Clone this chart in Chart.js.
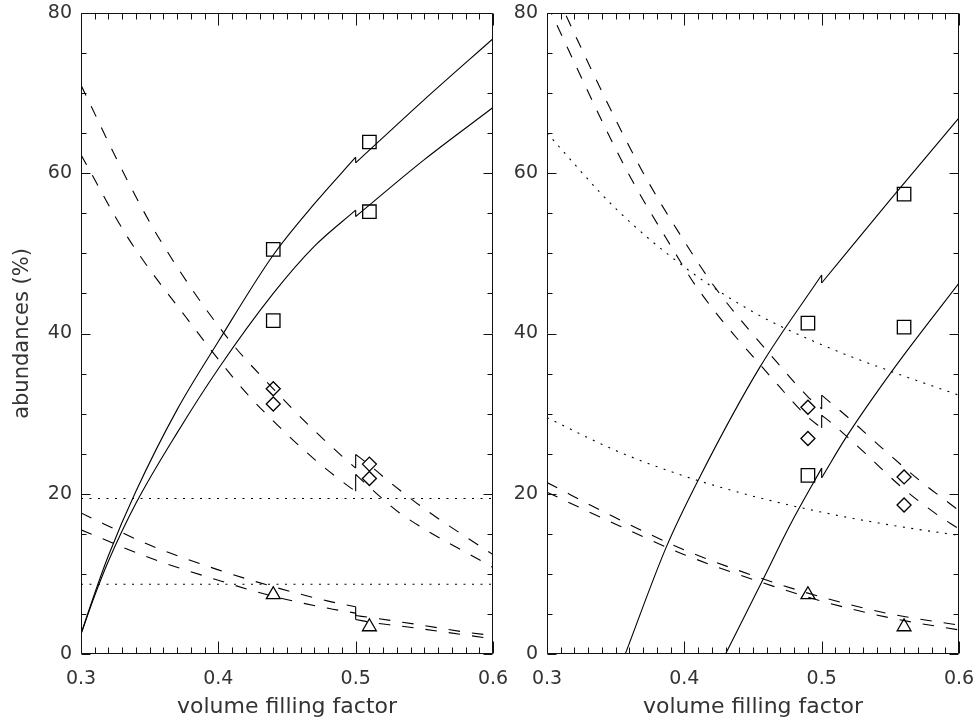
<!DOCTYPE html>
<html>
<head>
<meta charset="utf-8">
<script src="https://cdn.jsdelivr.net/npm/chart.js@4.4.1/dist/chart.umd.min.js"></script>
<style>
  html, body { margin: 0; padding: 0; background: #fff; }
  #wrap { position: relative; width: 976px; height: 720px; overflow: hidden; }
  canvas { position: absolute; top: 0; }
</style>
</head>
<body>
<div id="wrap">
  <canvas id="left" width="520" height="720" style="left:0px"></canvas>
  <canvas id="right" width="476" height="720" style="left:500px"></canvas>
</div>
<script>
// ---- ticks ----
const xTicks = [0.3, 0.4, 0.5, 0.6];
const yTicks = [0, 20, 40, 60, 80];

// ---- left panel ----
// solid curves (break at 0.5)
const lSolidUpPreX = [0.3, 0.31, 0.32, 0.34, 0.37, 0.4, 0.44, 0.47, 0.5];
const lSolidUpPreY = [2.5, 7.6, 12.3, 20.3, 30.5, 39.0, 49.8, 56.2, 62.0];
const lSolidUpPostX = [0.5, 0.55, 0.6];
const lSolidUpPostY = [61.3, 69.2, 76.8];
const lSolidLoPreX = [0.3, 0.31, 0.32, 0.34, 0.37, 0.4, 0.44, 0.47, 0.5];
const lSolidLoPreY = [2.5, 7.3, 11.6, 18.8, 27.6, 35.6, 45.0, 50.9, 55.4];
const lSolidLoPostX = [0.5, 0.55, 0.6];
const lSolidLoPostY = [54.6, 61.7, 68.2];
// upper dashed pair
const lDashAPreX = [0.3, 0.3335, 0.3575, 0.406, 0.44, 0.465, 0.49, 0.5];
const lDashAPreY = [71.0, 59.2, 51.7, 39.6, 33.1, 28.7, 24.7, 23.2];
const lDashAPostX = [0.5, 0.51, 0.523, 0.551, 0.6];
const lDashAPostY = [24.9, 23.6, 21.7, 18.0, 12.4];
const lDashBPreX = [0.3, 0.334, 0.377, 0.4187, 0.4435, 0.47, 0.4966, 0.5];
const lDashBPreY = [62.3, 52.0, 41.9, 32.9, 28.5, 24.3, 20.7, 20.3];
const lDashBPostX = [0.5, 0.507, 0.518, 0.532, 0.6];
const lDashBPostY = [22.4, 21.3, 19.6, 17.6, 10.8];
// lower dashed pair
const lDashEPreX = [0.3, 0.35, 0.4, 0.44, 0.48, 0.5];
const lDashEPreY = [17.6, 13.6, 10.5, 8.4, 6.6, 5.9];
const lDashEPostX = [0.5, 0.513, 0.548, 0.581, 0.6];
const lDashEPostY = [4.8, 4.5, 3.6, 2.7, 2.3];
const lDashFPreX = [0.3, 0.35, 0.4, 0.44, 0.48, 0.5];
const lDashFPreY = [15.5, 12.0, 9.2, 7.2, 5.7, 5.1];
const lDashFPostX = [0.5, 0.513, 0.532, 0.6];
const lDashFPostY = [4.3, 3.9, 3.5, 1.9];
// dotted levels
const lDotX = [0.3, 0.6];
const lDotHigh = [19.4, 19.4];
const lDotLow = [8.7, 8.7];
// measurements
const lSquareX = [0.44, 0.44, 0.51, 0.51];
const lSquareY = [50.5, 41.6, 63.9, 55.2];
const lDiamondX = [0.44, 0.44, 0.51, 0.51];
const lDiamondY = [33.1, 31.2, 23.7, 21.9];
const lTriangleX = [0.44, 0.51];
const lTriangleY = [7.4, 3.4];

// ---- right panel ----
const rSolid1PreX = [0.357, 0.387, 0.411, 0.455, 0.5];
const rSolid1PreY = [0, 13.4, 22.0, 35.8, 47.3];
const rSolid1PostX = [0.5, 0.55, 0.6];
const rSolid1PostY = [46.3, 56.7, 66.9];
const rSolid2PreX = [0.43, 0.457, 0.477, 0.5];
const rSolid2PreY = [0, 9.2, 16.1, 23.2];
const rSolid2PostX = [0.5, 0.518, 0.552, 0.6];
const rSolid2PostY = [22.0, 27.1, 35.5, 46.3];
const rDotX = [0.3, 0.35, 0.4, 0.45, 0.5, 0.55, 0.6];
const rDot1Y = [65.0, 55.6, 48.3, 42.7, 38.6, 35.3, 32.3];
const rDot2Y = [29.5, 25.4, 22.2, 19.7, 17.7, 16.1, 14.8];
const rDashAPreX = [0.3, 0.357, 0.391, 0.411, 0.466, 0.489, 0.5];
const rDashAPreY = [81.1, 60.7, 50.7, 45.3, 34.0, 29.7, 28.2];
const rDashAPostX = [0.5, 0.506, 0.532, 0.557, 0.584, 0.6];
const rDashAPostY = [29.8, 29.0, 25.0, 21.0, 17.4, 15.6];
const rDashBPreX = [0.3, 0.313, 0.368, 0.403, 0.423, 0.468, 0.49, 0.5];
const rDashBPreY = [85.0, 80.0, 60.7, 50.7, 45.6, 36.3, 32.1, 30.6];
const rDashBPostX = [0.5, 0.518, 0.544, 0.571, 0.6];
const rDashBPostY = [32.3, 29.7, 25.7, 21.7, 17.9];
const rDashLowX = [0.3, 0.35, 0.4, 0.45, 0.5, 0.55, 0.6];
const rDashCY = [21.4, 17.0, 13.0, 9.8, 7.1, 5.0, 3.6];
const rDashDY = [20.2, 16.2, 12.4, 9.3, 6.6, 4.5, 3.0];
const rSquareX = [0.49, 0.49, 0.56, 0.56];
const rSquareY = [41.3, 22.3, 57.4, 40.8];
const rDiamondX = [0.49, 0.49, 0.56, 0.56];
const rDiamondY = [30.8, 26.9, 22.1, 18.6];
const rTriangleX = [0.49, 0.56];
const rTriangleY = [7.4, 3.4];

const ink = "#000";
const textColor = "#333";
const DASH = [11.5, 12];
const DOT = [2, 6.5];

function pts(xs, ys) {
  return xs.map((x, i) => ({ x: x, y: ys[i] }));
}

function curve(xs, ys, dash) {
  return {
    data: pts(xs, ys),
    borderColor: ink,
    borderWidth: 1.1,
    borderDash: dash || [],
    pointRadius: 0,
    fill: false,
    cubicInterpolationMode: "monotone",
  };
}

// a curve with a jump at 0.5: two pieces plus the short joining stroke
function brokenCurve(preX, preY, postX, postY, dash) {
  const n = preX.length - 1;
  return [
    curve(preX, preY, dash),
    curve(postX, postY, dash),
    curve([preX[n], postX[0]], [preY[n], postY[0]]),
  ];
}

function marks(xs, ys, style, radius) {
  return {
    data: pts(xs, ys),
    showLine: false,
    pointStyle: style,
    pointRadius: radius,
    pointHoverRadius: radius,
    pointBorderColor: ink,
    pointBackgroundColor: "rgba(0,0,0,0)",
    pointBorderWidth: 1.3,
  };
}

const framePlugin = {
  id: "frame",
  afterDraw(chart) {
    const { ctx, chartArea: a, scales } = chart;
    const xs = scales.x, ys = scales.y;
    const L = Math.round(a.left) + 0.5, R = Math.round(a.right) - 0.5;
    const T = Math.round(a.top) + 0.5, B = Math.round(a.bottom) - 0.5;
    ctx.save();
    ctx.strokeStyle = "#111";
    ctx.lineWidth = 1;
    ctx.beginPath();
    ctx.rect(L, T, R - L, B - T);
    // x ticks every 0.01, long ones on the labels
    for (let i = 0; i <= 30; i++) {
      const px = Math.round(xs.getPixelForValue(0.3 + i * 0.01)) + 0.5;
      const len = i % 10 === 0 ? 12 : 6;
      ctx.moveTo(px, B); ctx.lineTo(px, B - len);
      ctx.moveTo(px, T); ctx.lineTo(px, T + len);
    }
    // y ticks every 5, long ones on the labels
    for (let v = 0; v <= 80; v += 5) {
      const py = Math.round(ys.getPixelForValue(v)) + 0.5;
      const len = v % 20 === 0 ? 9 : 5;
      ctx.moveTo(L, py); ctx.lineTo(L + len, py);
      ctx.moveTo(R, py); ctx.lineTo(R - len, py);
    }
    ctx.stroke();
    ctx.restore();
  },
};

const tickFont = { family: "DejaVu Sans", size: 19 };
const titleFont = { family: "DejaVu Sans", size: 22 };

function makeScales(yWidth, yTitle) {
  return {
    x: {
      type: "linear",
      min: 0.3,
      max: 0.6,
      grid: { display: false, drawTicks: false },
      border: { display: false },
      afterBuildTicks: (s) => { s.ticks = xTicks.map((v) => ({ value: v })); },
      afterFit: (s) => { s.height = 66; s.paddingLeft = 0; s.paddingRight = 0; },
      ticks: {
        color: textColor, font: tickFont, padding: 14,
        maxRotation: 0, autoSkip: false,
        callback: (v) => Number(v).toFixed(1),
      },
      title: {
        display: true, text: "volume filling factor", color: textColor,
        font: titleFont, padding: { top: 0, bottom: 0 },
      },
    },
    y: {
      type: "linear",
      min: 0,
      max: 80,
      grid: { display: false, drawTicks: false },
      border: { display: false },
      afterBuildTicks: (s) => { s.ticks = yTicks.map((v) => ({ value: v })); },
      afterFit: (s) => { s.width = yWidth; s.paddingTop = 0; s.paddingBottom = 0; },
      ticks: { color: textColor, font: tickFont, padding: 9 },
      title: {
        display: !!yTitle, text: yTitle || "", color: textColor,
        font: { family: "DejaVu Sans", size: 21 }, padding: { top: 10, bottom: 0 },
      },
    },
  };
}

function makeChart(id, datasets, yWidth, padRight, yTitle) {
  return new Chart(document.getElementById(id), {
    type: "line",
    data: { datasets: datasets },
    options: {
      responsive: false,
      animation: false,
      devicePixelRatio: 1,
      layout: { padding: { top: 13, left: 0, right: padRight, bottom: 0 } },
      plugins: { legend: { display: false }, tooltip: { enabled: false } },
      scales: makeScales(yWidth, yTitle),
    },
    plugins: [framePlugin],
  });
}

const leftSets = [].concat(
  brokenCurve(lSolidUpPreX, lSolidUpPreY, lSolidUpPostX, lSolidUpPostY),
  brokenCurve(lSolidLoPreX, lSolidLoPreY, lSolidLoPostX, lSolidLoPostY),
  brokenCurve(lDashAPreX, lDashAPreY, lDashAPostX, lDashAPostY, DASH),
  brokenCurve(lDashBPreX, lDashBPreY, lDashBPostX, lDashBPostY, DASH),
  brokenCurve(lDashEPreX, lDashEPreY, lDashEPostX, lDashEPostY, DASH),
  brokenCurve(lDashFPreX, lDashFPreY, lDashFPostX, lDashFPostY, DASH),
  [
    curve(lDotX, lDotHigh, DOT),
    curve(lDotX, lDotLow, DOT),
    marks(lSquareX, lSquareY, "rect", 9.5),
    marks(lDiamondX, lDiamondY, "rectRot", 7),
    marks(lTriangleX, lTriangleY, "triangle", 8),
  ]
);

const rightSets = [].concat(
  brokenCurve(rSolid1PreX, rSolid1PreY, rSolid1PostX, rSolid1PostY),
  brokenCurve(rSolid2PreX, rSolid2PreY, rSolid2PostX, rSolid2PostY),
  brokenCurve(rDashAPreX, rDashAPreY, rDashAPostX, rDashAPostY, DASH),
  brokenCurve(rDashBPreX, rDashBPreY, rDashBPostX, rDashBPostY, DASH),
  [
    curve(rDashLowX, rDashCY, DASH),
    curve(rDashLowX, rDashDY, DASH),
    curve(rDotX, rDot1Y, DOT),
    curve(rDotX, rDot2Y, DOT),
    marks(rSquareX, rSquareY, "rect", 9.5),
    marks(rDiamondX, rDiamondY, "rectRot", 7),
    marks(rTriangleX, rTriangleY, "triangle", 8),
  ]
);

makeChart("left", leftSets, 81, 27, "abundances (%)");
makeChart("right", rightSets, 47, 17, null);
</script>
</body>
</html>
